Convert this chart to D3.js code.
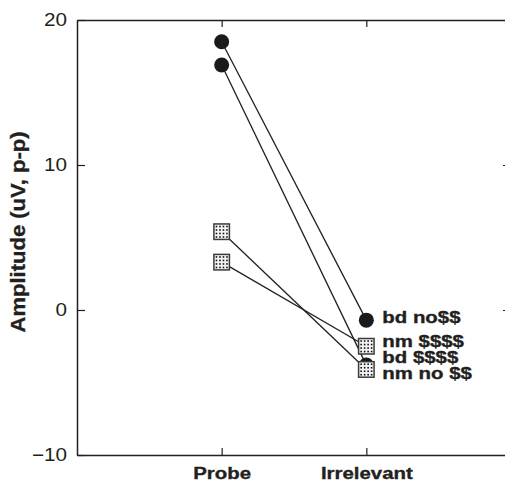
<!DOCTYPE html>
<html>
<head>
<meta charset="utf-8">
<script src="https://cdn.jsdelivr.net/npm/d3@7"></script>
<style>
  html, body { margin: 0; padding: 0; background: #fff; }
  svg { display: block; }
  text { font-family: "Liberation Sans", Arial, Helvetica, sans-serif; fill: #231f20; }
</style>
</head>
<body>
<svg id="chart" width="505" height="483"></svg>
<script>
// Conditions on the x axis
const categories = ["Probe", "Irrelevant"];

// One line per group/condition: amplitude at Probe and at Irrelevant
const seriesNames   = ["bd no$$", "bd $$$$", "nm $$$$", "nm no $$"];
const seriesMarkers = ["circle", "circle", "square", "square"];
const probeValues      = [18.5, 16.9, 3.3, 5.4];
const irrelevantValues = [-0.7, -3.8, -2.5, -4.1];

// Axis ticks
const yTickValues = [-10, 0, 10, 20];
const yTitle = "Amplitude (uV, p-p)";

const svg = d3.select("#chart");
const ink = "#231f20";
const stretch = 1.15; // horizontal stretch of the lettering

const plotLeft = 77, plotRight = 511, plotTop = 20, plotBottom = 455;

const x = d3.scalePoint().domain(categories).range([plotLeft, plotRight]).padding(1);
const y = d3.scaleLinear().domain([-10, 20]).range([plotBottom, plotTop]);

function styleAxis(g) {
  g.select(".domain").attr("stroke", ink).attr("stroke-width", 1.5);
  g.selectAll(".tick line").attr("stroke", ink).attr("stroke-width", 1.2);
}
function widenLabels(g) {
  g.selectAll(".tick text").each(function () {
    const t = d3.select(this);
    const tx = +t.attr("x") || 0;
    const ty = +t.attr("y") || 0;
    t.attr("x", 0).attr("y", 0)
     .attr("transform", `translate(${tx},${ty}) scale(${stretch},1)`);
  });
}

// Frame: four axes with inward ticks
svg.append("g")
  .attr("transform", `translate(${plotLeft},0)`)
  .call(d3.axisLeft(y).tickValues(yTickValues).tickSizeInner(-8).tickSizeOuter(0).tickPadding(10))
  .call(g => g.selectAll(".tick text").attr("font-size", 18).attr("fill", ink).attr("font-family", null))
  .call(styleAxis).call(widenLabels);

svg.append("g")
  .attr("transform", `translate(${plotRight},0)`)
  .call(d3.axisRight(y).tickValues(yTickValues).tickSizeInner(-8).tickSizeOuter(0).tickFormat(""))
  .call(styleAxis);

svg.append("g")
  .attr("transform", `translate(0,${plotTop})`)
  .call(d3.axisTop(x).tickSizeInner(-7).tickSizeOuter(0).tickFormat(""))
  .call(styleAxis);

svg.append("g")
  .attr("transform", `translate(0,${plotBottom})`)
  .call(d3.axisBottom(x).tickSizeInner(-7).tickSizeOuter(0).tickPadding(0))
  .call(g => g.selectAll(".tick text")
      .attr("font-size", 17).attr("font-weight", "bold").attr("fill", ink)
      .attr("stroke", ink).attr("stroke-width", 0.35)
      .attr("font-family", null).attr("dy", null).attr("y", 24))
  .call(styleAxis);
svg.selectAll("g").filter(function () { return this.getAttribute("transform") === `translate(0,${plotBottom})`; })
  .selectAll(".tick text").each(function () {
    const t = d3.select(this);
    const ty = +t.attr("y");
    t.attr("y", 0).attr("transform", `translate(0,${ty}) scale(1.2,1)`);
  });

// Y axis title
svg.append("text")
  .attr("transform", `translate(25,232) scale(${stretch},1) rotate(-90)`)
  .attr("text-anchor", "middle")
  .attr("font-size", 18)
  .attr("font-weight", "bold")
  .attr("stroke", ink).attr("stroke-width", 0.3)
  .attr("textLength", 201)
  .attr("lengthAdjust", "spacingAndGlyphs")
  .text(yTitle);

// Build series records
const series = seriesNames.map((name, i) => ({
  name,
  marker: seriesMarkers[i],
  values: [probeValues[i], irrelevantValues[i]]
}));

// Connecting lines
const line = d3.line().x((d, j) => x(categories[j])).y(d => y(d));
svg.append("g").selectAll("path")
  .data(series)
  .join("path")
  .attr("d", d => line(d.values))
  .attr("fill", "none")
  .attr("stroke", ink)
  .attr("stroke-width", 1.3);

// Markers: circles first, dotted squares on top
const points = series.flatMap(s => s.values.map((v, j) => ({ s, v, cat: categories[j] })));
const drawOrder = points.slice().sort((a, b) =>
  (a.s.marker === "square") - (b.s.marker === "square"));

const mg = svg.append("g");
drawOrder.forEach(p => {
  const cx = x(p.cat), cy = y(p.v);
  if (p.s.marker === "circle") {
    mg.append("circle").attr("cx", cx).attr("cy", cy).attr("r", 7.5).attr("fill", "#1a1a1a");
  } else {
    const half = 8.5;
    const g = mg.append("g").attr("transform", `translate(${cx},${cy})`);
    g.append("rect")
      .attr("x", -half + 0.75).attr("y", -half + 0.75)
      .attr("width", 2 * half - 1.5).attr("height", 2 * half - 1.5)
      .attr("fill", "#f4f4f4").attr("stroke", "#3a3a3a").attr("stroke-width", 1.5);
    const steps = d3.range(4).map(k => -5.2 + k * 3.5);
    steps.forEach(dx => steps.forEach(dy => {
      g.append("rect").attr("x", dx - 0.8).attr("y", dy - 0.8)
        .attr("width", 1.6).attr("height", 1.6).attr("fill", "#111");
    }));
  }
});

// End labels beside Irrelevant, stacked so they do not overlap
const gap = 16;
const labels = series.map(s => ({ name: s.name, target: y(s.values[1]) + 3 }))
  .sort((a, b) => a.target - b.target);
// cluster-based de-overlap
const clusters = labels.map(l => ({ items: [l], center: l.target }));
let merged = true;
while (merged) {
  merged = false;
  for (let i = 0; i < clusters.length - 1; i++) {
    const a = clusters[i], b = clusters[i + 1];
    const aBottom = a.center + (a.items.length - 1) * gap / 2;
    const bTop = b.center - (b.items.length - 1) * gap / 2;
    if (bTop - aBottom < gap) {
      const items = a.items.concat(b.items);
      const center = d3.mean(items, d => d.target);
      clusters.splice(i, 2, { items, center });
      merged = true;
      break;
    }
  }
}
clusters.forEach(c => c.items.forEach((l, k) => {
  l.pos = c.center + (k - (c.items.length - 1) / 2) * gap;
}));

const labelX = x(categories[1]) + 16;
svg.append("g").selectAll("text")
  .data(labels)
  .join("text")
  .attr("transform", d => `translate(${labelX},${d.pos}) scale(1.2,1)`)
  .attr("font-size", 17)
  .attr("font-weight", "bold")
  .attr("stroke", ink).attr("stroke-width", 0.35)
  .text(d => d.name);
</script>
</body>
</html>
